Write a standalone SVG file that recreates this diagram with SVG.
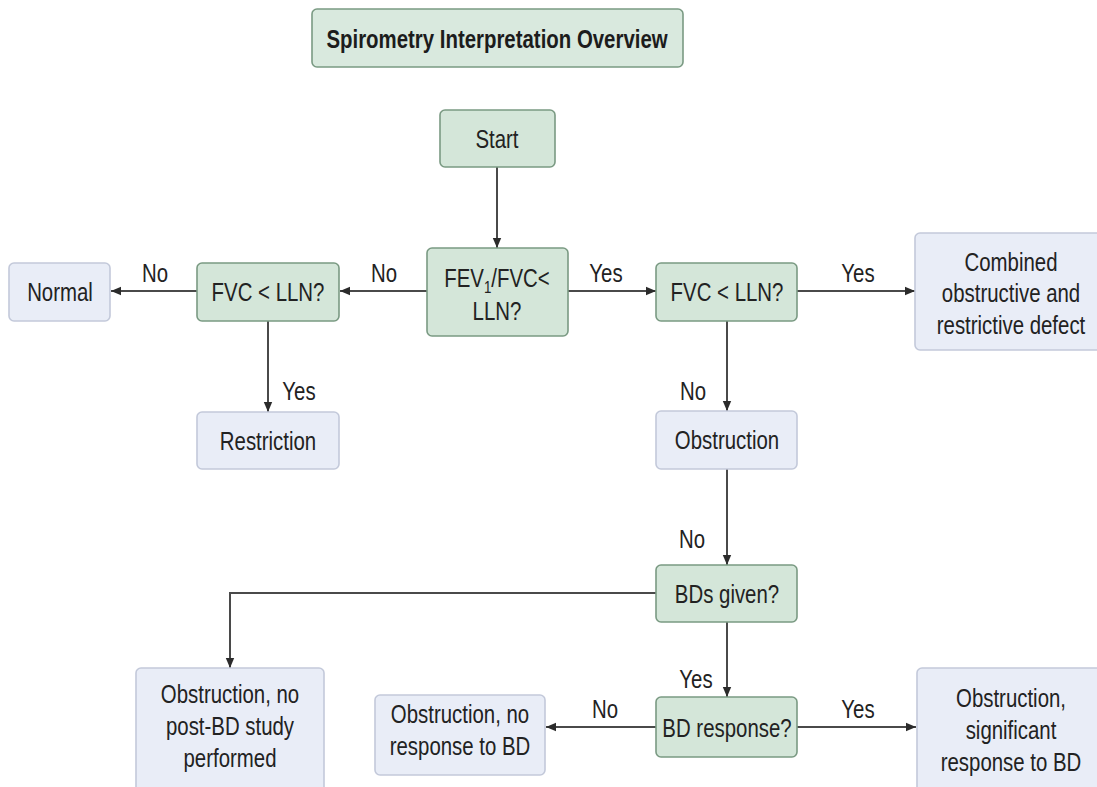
<svg xmlns="http://www.w3.org/2000/svg" width="1097" height="787" viewBox="0 0 1097 787">
<defs>
<marker id="ah" viewBox="0 0 10 10" refX="10" refY="5" markerWidth="10" markerHeight="10" markerUnits="userSpaceOnUse" orient="auto">
<path d="M0,0.8 L10,5 L0,9.2 Z" fill="#2b2b2b"/>
</marker>
<style>
.g{fill:#d4e6d9;stroke:#7a9a83;stroke-width:1.6}
.tb{fill:#d9e9de;stroke:#7a9a83;stroke-width:1.6}
.b{fill:#e9edf7;stroke:#c3c9da;stroke-width:1.6}
.t{font-family:"Liberation Sans",Arial,sans-serif;font-size:26px;fill:#222222;text-anchor:middle}
.tt{font-family:"Liberation Sans",Arial,sans-serif;font-size:26px;font-weight:bold;fill:#1c1c1c;text-anchor:middle}
.c{fill:none;stroke:#4a4a4a;stroke-width:2}
</style>
</defs>
<rect width="1097" height="787" fill="#ffffff"/>

<g id="connectors">
<line class="c" x1="497" y1="167" x2="497" y2="248" marker-end="url(#ah)"/>
<line class="c" x1="427" y1="291" x2="340" y2="291" marker-end="url(#ah)"/>
<line class="c" x1="197" y1="291" x2="111" y2="291" marker-end="url(#ah)"/>
<line class="c" x1="268" y1="321" x2="268" y2="412" marker-end="url(#ah)"/>
<line class="c" x1="568" y1="291" x2="656" y2="291" marker-end="url(#ah)"/>
<line class="c" x1="797" y1="291" x2="915" y2="291" marker-end="url(#ah)"/>
<line class="c" x1="727" y1="321" x2="727" y2="411" marker-end="url(#ah)"/>
<line class="c" x1="727" y1="469" x2="727" y2="565" marker-end="url(#ah)"/>
<polyline class="c" points="656,593 230,593 230,668" marker-end="url(#ah)"/>
<line class="c" x1="727" y1="622" x2="727" y2="697" marker-end="url(#ah)"/>
<line class="c" x1="656" y1="727" x2="546" y2="727" marker-end="url(#ah)"/>
<line class="c" x1="797" y1="727" x2="916" y2="727" marker-end="url(#ah)"/>
<g id="edge-labels">
<text class="t" transform="translate(155,282) scale(0.785,1)">No</text>
<text class="t" transform="translate(384,282) scale(0.785,1)">No</text>
<text class="t" transform="translate(606,282) scale(0.785,1)">Yes</text>
<text class="t" transform="translate(858,282) scale(0.785,1)">Yes</text>
<text class="t" transform="translate(299,400) scale(0.785,1)">Yes</text>
<text class="t" transform="translate(693,400) scale(0.785,1)">No</text>
<text class="t" transform="translate(692,548) scale(0.785,1)">No</text>
<text class="t" transform="translate(696,688) scale(0.785,1)">Yes</text>
<text class="t" transform="translate(605,718) scale(0.785,1)">No</text>
<text class="t" transform="translate(858,718) scale(0.785,1)">Yes</text>
</g>
</g>

<g id="title">
<rect class="tb" x="312" y="9" width="371" height="58" rx="5"/>
<text class="tt" transform="translate(497,48) scale(0.785,1)">Spirometry Interpretation Overview</text>
</g>

<g id="start">
<rect class="g" x="440" y="110" width="115" height="57" rx="5"/>
<text class="t" transform="translate(497,148) scale(0.785,1)">Start</text>
</g>

<g id="fev">
<rect class="g" x="427" y="248" width="141" height="88" rx="5"/>
<text class="t" transform="translate(497,287) scale(0.785,1)">FEV<tspan font-size="17" dy="6">1</tspan><tspan dy="-6">/FVC&lt;</tspan></text>
<text class="t" transform="translate(497,320) scale(0.785,1)">LLN?</text>
</g>

<g id="fvc-left">
<rect class="g" x="197" y="263" width="142" height="58" rx="5"/>
<text class="t" transform="translate(268,301) scale(0.785,1)">FVC &lt; LLN?</text>
</g>

<g id="normal">
<rect class="b" x="9" y="263" width="101" height="58" rx="5"/>
<text class="t" transform="translate(60,301) scale(0.785,1)">Normal</text>
</g>

<g id="restriction">
<rect class="b" x="197" y="412" width="142" height="57" rx="5"/>
<text class="t" transform="translate(268,450) scale(0.785,1)">Restriction</text>
</g>

<g id="fvc-right">
<rect class="g" x="656" y="263" width="141" height="58" rx="5"/>
<text class="t" transform="translate(727,301) scale(0.785,1)">FVC &lt; LLN?</text>
</g>

<g id="combined">
<rect class="b" x="915" y="233" width="192" height="117" rx="5"/>
<text class="t" transform="translate(1011,271) scale(0.785,1)">Combined</text>
<text class="t" transform="translate(1011,302) scale(0.785,1)">obstructive and</text>
<text class="t" transform="translate(1011,334) scale(0.785,1)">restrictive defect</text>
</g>

<g id="obstruction">
<rect class="b" x="656" y="411" width="141" height="58" rx="5"/>
<text class="t" transform="translate(727,449) scale(0.785,1)">Obstruction</text>
</g>

<g id="bds-given">
<rect class="g" x="656" y="565" width="141" height="57" rx="5"/>
<text class="t" transform="translate(727,603) scale(0.785,1)">BDs given?</text>
</g>

<g id="post-bd">
<rect class="b" x="136" y="668" width="188" height="130" rx="5"/>
<text class="t" transform="translate(230,703) scale(0.785,1)">Obstruction, no</text>
<text class="t" transform="translate(230,735) scale(0.785,1)">post-BD study</text>
<text class="t" transform="translate(230,767) scale(0.785,1)">performed</text>
</g>

<g id="bd-response">
<rect class="g" x="656" y="697" width="141" height="60" rx="5"/>
<text class="t" transform="translate(727,737) scale(0.785,1)">BD response?</text>
</g>

<g id="no-response">
<rect class="b" x="375" y="695" width="170" height="80" rx="5"/>
<text class="t" transform="translate(460,723) scale(0.785,1)">Obstruction, no</text>
<text class="t" transform="translate(460,755) scale(0.785,1)">response to BD</text>
</g>

<g id="significant">
<rect class="b" x="917" y="668" width="190" height="130" rx="5"/>
<text class="t" transform="translate(1011,707) scale(0.785,1)">Obstruction,</text>
<text class="t" transform="translate(1011,739) scale(0.785,1)">significant</text>
<text class="t" transform="translate(1011,771) scale(0.785,1)">response to BD</text>
</g>
</svg>
